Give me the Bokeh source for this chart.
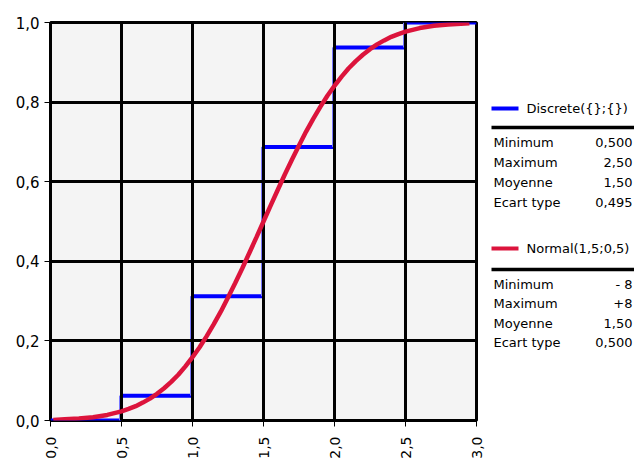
from bokeh.plotting import figure
from bokeh.models import FixedTicker, Range1d
from bokeh.layouts import row
from bokeh.core.properties import value
from bokeh.embed import file_html
from bokeh.resources import INLINE
import math

# ---- data ----
x_ticks = [0.0, 0.5, 1.0, 1.5, 2.0, 2.5, 3.0]
x_tick_labels = ["0,0", "0,5", "1,0", "1,5", "2,0", "2,5", "3,0"]
y_ticks = [0.0, 0.2, 0.4, 0.6, 0.8, 1.0]
y_tick_labels = ["0,0", "0,2", "0,4", "0,6", "0,8", "1,0"]

disc_x = [0.5, 1.0, 1.5, 2.0, 2.5]
disc_cdf = [0.0625, 0.3125, 0.6875, 0.9375, 1.0]

norm_x = [0.02, 0.1, 0.2, 0.3, 0.4, 0.5, 0.55, 0.6, 0.65, 0.7, 0.75, 0.8, 0.85, 0.9, 0.95,
          1.0, 1.05, 1.1, 1.15, 1.2, 1.25, 1.3, 1.35, 1.4, 1.45, 1.5,
          1.55, 1.6, 1.65, 1.7, 1.75, 1.8, 1.85, 1.9, 1.95, 2.0, 2.05, 2.1, 2.15, 2.2,
          2.25, 2.3, 2.35, 2.4, 2.45, 2.5, 2.6, 2.7, 2.8, 2.95]
norm_cdf = [0.001, 0.003, 0.005, 0.008, 0.014, 0.023, 0.029, 0.036, 0.045, 0.055, 0.067, 0.081,
            0.097, 0.115, 0.136, 0.159, 0.184, 0.212, 0.242, 0.274, 0.309, 0.345, 0.382, 0.421,
            0.460, 0.500, 0.540, 0.579, 0.618, 0.655, 0.691, 0.726, 0.758, 0.788, 0.816, 0.841,
            0.864, 0.885, 0.903, 0.919, 0.933, 0.945, 0.955, 0.964, 0.971, 0.977, 0.986, 0.992,
            0.995, 0.998]

stat_names = ["Minimum", "Maximum", "Moyenne", "Ecart type"]
disc_name = "Discrete({};{})"
disc_stats = ["0,500", "2,50", "1,50", "0,495"]
norm_name = "Normal(1,5;0,5)"
norm_stats = ["- 8", "+8", "1,50", "0,500"]

BLUE = "#0000ff"
RED = "#dc143c"
FONT = "DejaVu Sans"

TOP, FH, BOT = 22, 398, 43
PW = 488

# ---- main chart ----
p = figure(width=PW, height=TOP + FH + BOT, output_backend="svg", toolbar_location=None,
           x_range=Range1d(0, 3), y_range=Range1d(0, 1),
           frame_width=426, frame_height=FH,
           min_border_left=50, min_border_right=PW - 476, min_border_top=TOP, min_border_bottom=BOT)
p.background_fill_color = "#f4f4f4"
p.border_fill_color = "white"
p.outline_line_color = "black"
p.outline_line_width = 3

for ax, ticks, labels in ((p.xaxis[0], x_ticks, x_tick_labels), (p.yaxis[0], y_ticks, y_tick_labels)):
    ax.ticker = FixedTicker(ticks=ticks)
    ax.major_label_overrides = {t: l for t, l in zip(ticks, labels)}
    ax.axis_line_color = None
    ax.major_tick_out = 6
    ax.major_tick_in = 0
    ax.major_tick_line_color = "black"
    ax.minor_tick_line_color = None
    ax.major_label_text_font = FONT
    ax.major_label_text_color = "black"
p.yaxis.major_label_text_font_size = "15px"
p.yaxis.major_label_standoff = 5
p.xaxis.major_label_text_font_size = "14px"
p.xaxis.major_label_standoff = 10
p.xaxis.major_label_orientation = math.pi / 2

p.xgrid.ticker = FixedTicker(ticks=x_ticks)
p.ygrid.ticker = FixedTicker(ticks=y_ticks)
for g in (p.xgrid[0], p.ygrid[0]):
    g.grid_line_color = "black"
    g.grid_line_width = 3
    g.grid_line_alpha = 1

# discrete step cdf
hx0 = [0.0] + disc_x
hx1 = disc_x + [3.0]
hy = [0.0] + disc_cdf
p.segment(x0=hx0, x1=hx1, y0=hy, y1=hy, line_color=BLUE, line_width=4, level="image")
vy0 = [0.0] + disc_cdf[:-1]
p.segment(x0=[x - 0.014 for x in disc_x], x1=[x - 0.014 for x in disc_x], y0=vy0, y1=disc_cdf,
          line_color="#7878ff", line_width=1, level="image")

# normal cdf
p.line(norm_x, norm_cdf, line_color=RED, line_width=4.5)

# ---- legend panel: coordinates are page pixels ----
LW = 634 - PW
q = figure(width=LW, height=TOP + FH + BOT, output_backend="svg", toolbar_location=None,
           x_range=Range1d(PW, 634), y_range=Range1d(TOP + FH, TOP),
           frame_width=LW, frame_height=FH,
           min_border_left=0, min_border_right=0, min_border_top=TOP, min_border_bottom=BOT,
           x_axis_location=None, y_axis_location=None)
q.outline_line_color = None
q.background_fill_color = "white"
q.border_fill_color = "white"
q.xgrid.visible = False
q.ygrid.visible = False

def legend_block(color, name, stats, y_line, y_sep, y_rows):
    q.segment(x0=[491], x1=[518], y0=[y_line], y1=[y_line], line_color=color, line_width=4)
    q.text(x=[526], y=[y_line], text=[name], text_font=value(FONT), text_font_size="13px",
           text_baseline="middle", text_align="left", text_color="black")
    q.segment(x0=[491], x1=[634], y0=[y_sep], y1=[y_sep], line_color="black", line_width=3.5)
    q.text(x=[493] * len(stat_names), y=y_rows, text=stat_names, text_font=value(FONT),
           text_font_size="13px", text_baseline="middle", text_align="left", text_color="black")
    q.text(x=[632] * len(stats), y=y_rows, text=stats, text_font=value(FONT),
           text_font_size="13px", text_baseline="middle", text_align="right", text_color="black")

legend_block(BLUE, disc_name, disc_stats, 108, 127, [142, 162, 182, 202])
legend_block(RED, norm_name, norm_stats, 248, 269, [284, 303, 323, 342])

layout = row(p, q)
open("out.html", "w").write(file_html(layout, INLINE))
